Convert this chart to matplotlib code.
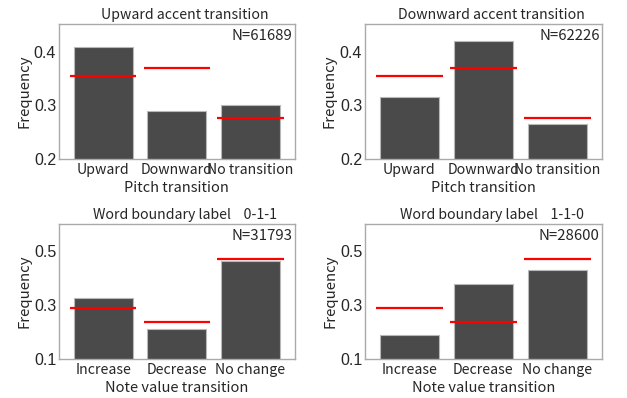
import matplotlib

matplotlib.use("Agg")
import matplotlib.pyplot as plt

plt.rcParams["font.family"] = ["Noto Sans CJK JP", "DejaVu Sans"]

# Pitch transition panels
pitch_cats = ["Upward", "Downward", "No transition"]
up_freq = [0.410, 0.290, 0.301]
down_freq = [0.316, 0.420, 0.265]
pitch_expected = [0.355, 0.370, 0.276]

# Note value transition panels
note_cats = ["Increase", "Decrease", "No change"]
wb011_freq = [0.326, 0.210, 0.462]
wb110_freq = [0.188, 0.377, 0.431]
note_expected = [0.290, 0.237, 0.472]

panels = [
    ("Upward accent transition", pitch_cats, up_freq, pitch_expected, "N=61689",
     "Pitch transition", (0.2, 0.452), [0.2, 0.3, 0.4]),
    ("Downward accent transition", pitch_cats, down_freq, pitch_expected, "N=62226",
     "Pitch transition", (0.2, 0.452), [0.2, 0.3, 0.4]),
    ("Word boundary label    0-1-1", note_cats, wb011_freq, note_expected, "N=31793",
     "Note value transition", (0.1, 0.6), [0.1, 0.3, 0.5]),
    ("Word boundary label    1-1-0", note_cats, wb110_freq, note_expected, "N=28600",
     "Note value transition", (0.1, 0.6), [0.1, 0.3, 0.5]),
]

fig = plt.figure(figsize=(6.27, 3.98), dpi=100)
rects = [
    [0.094, 0.6005, 0.376, 0.339],
    [0.582, 0.6005, 0.378, 0.339],
    [0.094, 0.098, 0.376, 0.339],
    [0.582, 0.098, 0.378, 0.339],
]

text_col = "#262626"
for rect, (title, cats, freq, expected, ntext, xlabel, ylim, yticks) in zip(rects, panels):
    ax = fig.add_axes(rect)
    x = range(len(cats))
    ax.bar(x, freq, width=0.8, color="#4a4a4a", edgecolor="#b8b8b8", linewidth=0.8)
    ax.hlines(expected, [i - 0.45 for i in x], [i + 0.45 for i in x],
              colors="red", linewidth=1.6, zorder=3)
    ax.set_xlim(-0.6, 2.6)
    ax.set_ylim(*ylim)
    ax.set_yticks(yticks)
    ax.set_xticks(list(x))
    ax.set_xticklabels(cats, fontsize=10.2)
    ax.tick_params(axis="x", length=0, labelcolor=text_col, pad=3)
    ax.tick_params(axis="y", length=0, labelcolor=text_col, pad=2)
    for lbl in ax.get_yticklabels():
        lbl.set_family(["Liberation Sans", "DejaVu Sans"])
        lbl.set_fontsize(11.5)
    for s in ax.spines.values():
        s.set_color("#aaaaaa")
        s.set_linewidth(1.0)
    ax.set_title(title, fontsize=10.2, color=text_col, x=0.535, pad=4)
    ax.set_xlabel(xlabel, fontsize=10.5, color=text_col)
    ax.xaxis.label.set_va("center")
    ax.xaxis.set_label_coords(0.5, -0.215)
    ax.set_ylabel("Frequency", fontsize=10.8, color=text_col, labelpad=2)
    ax.text(0.99, 0.96, ntext, transform=ax.transAxes, ha="right", va="top",
            fontsize=10.8, color=text_col)

fig.savefig("out.png", dpi=100)
